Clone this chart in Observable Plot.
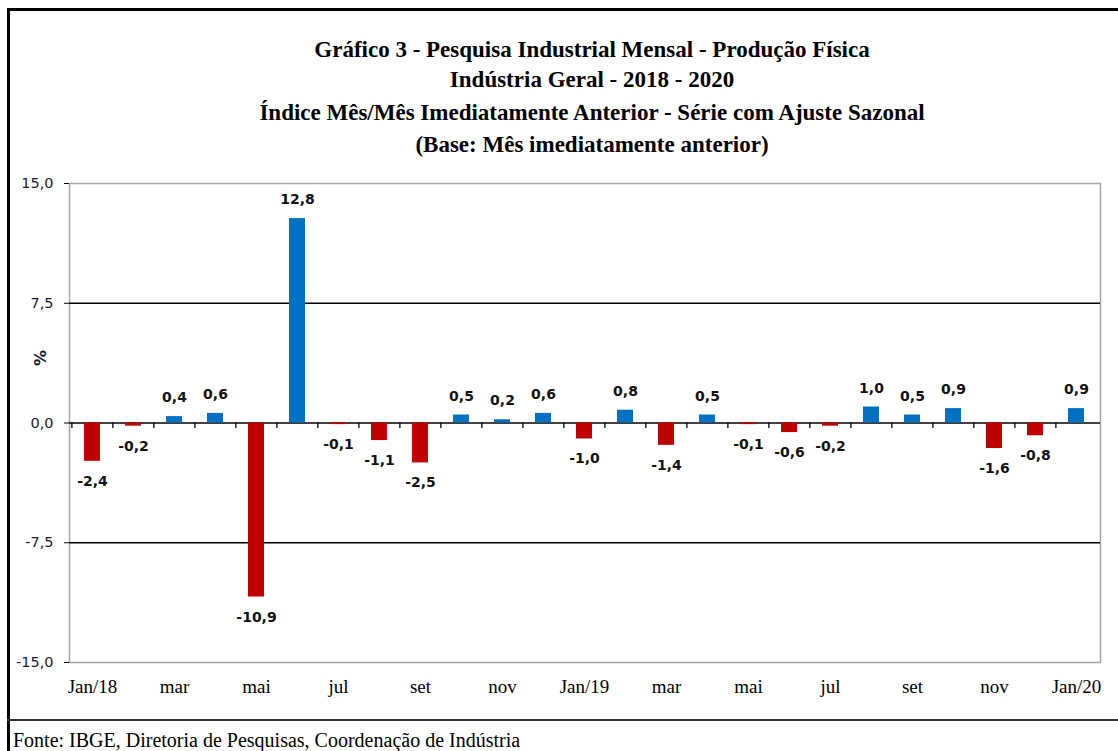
<!DOCTYPE html>
<html><head><meta charset="utf-8">
<script src="https://cdn.jsdelivr.net/npm/d3@7"></script>
<script src="https://cdn.jsdelivr.net/npm/@observablehq/plot@0.6"></script>
<style>
body{margin:0;background:#fff;}
#page{position:relative;width:1118px;height:751px;overflow:hidden;background:#fff;}
#frameTop{position:absolute;left:7px;top:8px;width:1111px;height:3px;background:#000;}
#frameLeft{position:absolute;left:7px;top:8px;width:3px;height:743px;background:#000;}
#frameBottom{position:absolute;left:7px;top:719px;width:1111px;height:2px;background:#333;}
.title{position:absolute;left:92px;width:1000px;text-align:center;font-family:"Liberation Serif",serif;font-weight:bold;font-size:23px;line-height:30px;color:#000;white-space:nowrap;}
#chart{position:absolute;left:0;top:160px;}
#fonte{position:absolute;left:13px;top:730px;font-family:"Liberation Serif",serif;font-size:20px;line-height:20px;color:#000;white-space:nowrap;}
</style>
</head>
<body>
<div id="page">
  <div id="frameTop"></div>
  <div id="frameLeft"></div>
  <div id="frameBottom"></div>
  <div class="title" style="top:35px">Gráfico 3 - Pesquisa Industrial Mensal - Produção Física</div>
  <div class="title" style="top:65px">Indústria Geral - 2018 - 2020</div>
  <div class="title" style="top:98px">Índice Mês/Mês Imediatamente Anterior - Série com Ajuste Sazonal</div>
  <div class="title" style="top:130px">(Base: Mês imediatamente anterior)</div>
  <div id="chart"></div>
  <div id="fonte">Fonte: IBGE, Diretoria de Pesquisas, Coordenação de Indústria</div>
</div>
<script>
const months = ["jan/18","fev/18","mar/18","abr/18","mai/18","jun/18","jul/18","ago/18","set/18","out/18","nov/18","dez/18",
                "jan/19","fev/19","mar/19","abr/19","mai/19","jun/19","jul/19","ago/19","set/19","out/19","nov/19","dez/19",
                "jan/20"];
const values = [-2.4,-0.2,0.4,0.6,-10.9,12.8,-0.1,-1.1,-2.5,0.5,0.2,0.6,
                -1.0,0.8,-1.4,0.5,-0.1,-0.6,-0.2,1.0,0.5,0.9,-1.6,-0.8,
                0.9];
const tickMonths = ["jan/18","mar/18","mai/18","jul/18","set/18","nov/18","jan/19","mar/19","mai/19","jul/19","set/19","nov/19","jan/20"];
const tickLabels = ["Jan/18","mar","mai","jul","set","nov","Jan/19","mar","mai","jul","set","nov","Jan/20"];
const yTicks = [-15,-7.5,0,7.5,15];

const data = months.map((m,i)=>({month:m, value:values[i]}));
const fmt = v => v.toFixed(1).replace(".", ",");
const blue = "#0070C0", red = "#C00000";

const W = 1118, ML = 69, MR = 18;
const step = (W - ML - MR) / months.length;

const chart = Plot.plot({
  width: W, height: 545,
  marginLeft: ML, marginRight: MR, marginTop: 23, marginBottom: 43,
  x: {domain: months, paddingInner: 0.6, paddingOuter: 0.3, axis: null},
  y: {domain: [-15, 15], axis: null},
  marks: [
    Plot.frame({stroke: "#a6a6a6", strokeWidth: 1.5}),
    Plot.ruleY([7.5, 0, -7.5], {stroke: "#000", strokeWidth: 1.5}),
    Plot.barY(data, {filter: d => d.value >= 0, x: "month", y: "value", fill: blue}),
    Plot.barY(data, {filter: d => d.value < 0, x: "month", y: "value", fill: red}),
    Plot.ruleX(data, {x: "month", y1: 0, y2: -0.35, dx: -step/2, stroke: "#000", strokeWidth: 1.3}),
    Plot.axisY({ticks: yTicks, tickFormat: fmt, tickSize: 5, tickPadding: 11, line: true,
      fontSize: 14.5, fontFamily: "DejaVu Sans", fill: "#1a1a2e", stroke: "#000", label: null}),
    Plot.axisX({ticks: tickMonths, tickFormat: d => tickLabels[tickMonths.indexOf(d)], tickSize: 0, tickPadding: 17,
      fontSize: 19, fontFamily: "Liberation Serif", fill: "#000", label: null, anchor: "bottom"}),
    Plot.text(data, {filter: d => d.value >= 0, x: "month", y: "value", text: d => fmt(d.value), dy: -19,
      fontSize: 14, fontWeight: "bold", fontFamily: "DejaVu Sans", fill: "#111"}),
    Plot.text(data, {filter: d => d.value < 0, x: "month", y: "value", text: d => fmt(d.value), dy: 20,
      fontSize: 14, fontWeight: "bold", fontFamily: "DejaVu Sans", fill: "#111"}),
    Plot.text(["%"], {frameAnchor: "left", dx: -29, dy: -57, rotate: -90, text: d => d,
      fontSize: 16, fontWeight: "bold", fontFamily: "DejaVu Sans", fill: "#1a1a2e"})
  ]
});
document.getElementById("chart").appendChild(chart);
</script>
</body></html>
